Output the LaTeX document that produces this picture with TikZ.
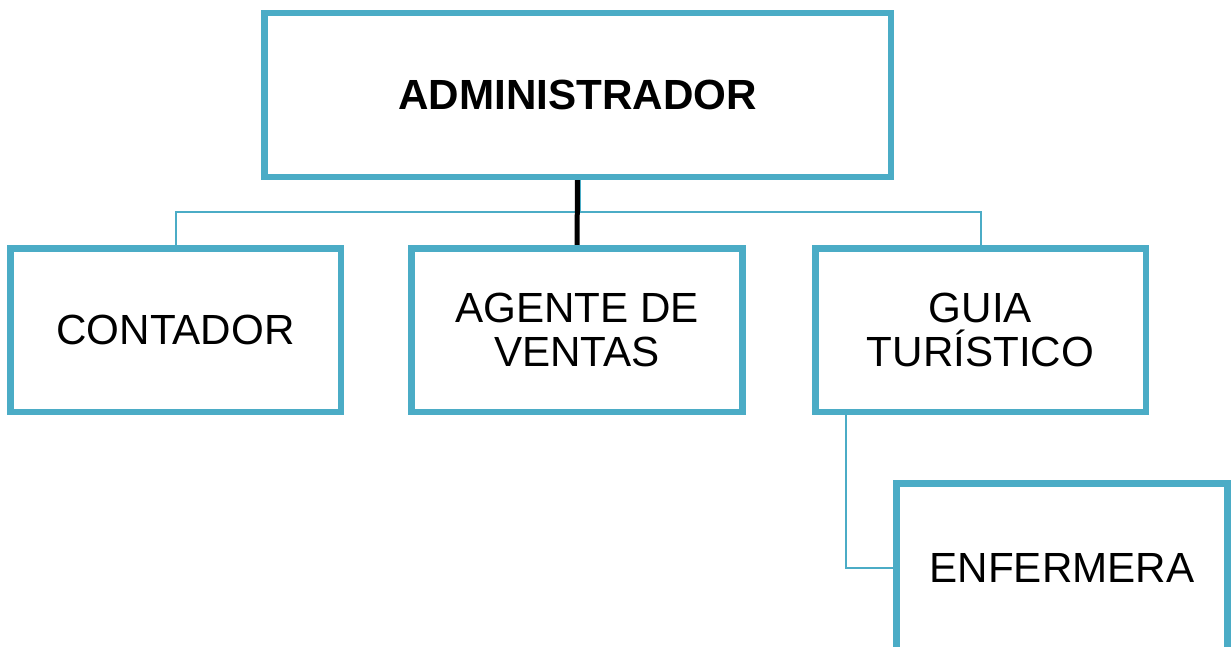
\documentclass[tikz,border=0pt]{standalone}
\usepackage{fontspec}
\setmainfont{Liberation Sans}
\definecolor{cajaazul}{HTML}{4BACC6}
\tikzset{
  caja/.style={draw=cajaazul, line width=0.045cm, fill=white, minimum width=3.285cm,
               minimum height=1.615cm, align=center, inner sep=0pt,
               font=\fontsize{12}{12.3}\selectfont},
  enlace/.style={draw=cajaazul, line width=0.02cm},
}
\begin{document}
\begin{tikzpicture}
  \useasboundingbox (0,0) rectangle (12.31,6.46);

  % Drawing boxes
  \node[caja, minimum width=6.245cm, font=\fontsize{12}{12.3}\selectfont\bfseries] (admin) at (5.775,5.51) {ADMINISTRADOR};
  \node[caja] (contador) at (1.755,3.16) {CONTADOR};
  \node[caja] (agente) at (5.77,3.16) {AGENTE DE\\VENTAS};
  \node[caja] (guia) at (9.805,3.16) {GUIA\\TURÍSTICO};
  \node[caja, minimum height=1.66cm] (enfermera) at (10.62,0.785) {ENFERMERA};

  % Drawing connectors
  \draw[enlace] ([xshift=0.02cm]admin.south) -- ++(0,-0.34) -| (contador.north);
  \draw[enlace] ([xshift=0.02cm]admin.south) -- ++(0,-0.34) -| (guia.north);
  \draw[line width=0.05cm] (admin.south) -- (agente.north);
  \draw[enlace] ([xshift=0.315cm]guia.south west) |- (enfermera.west);

  % Boxes again on top of the lines
  \foreach \n in {admin,contador,agente,guia,enfermera}
    \draw[draw=cajaazul, line width=0.045cm] (\n.south west) rectangle (\n.north east);
\end{tikzpicture}
\end{document}
